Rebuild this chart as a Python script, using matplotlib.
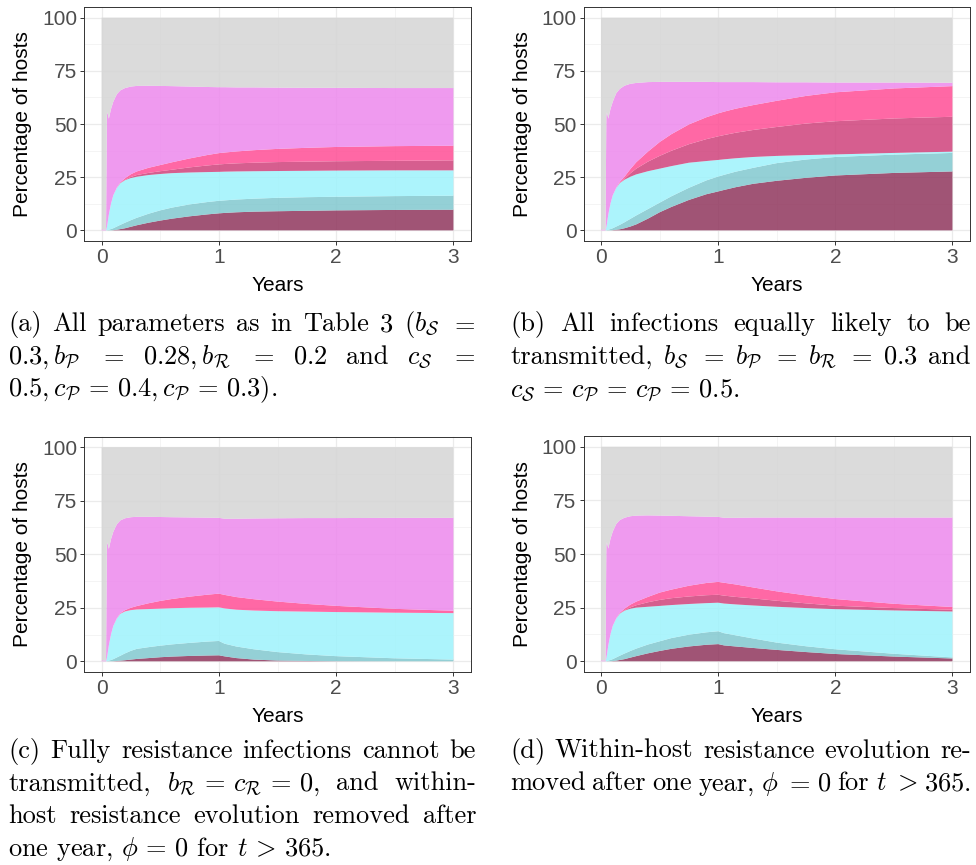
import numpy as np
import matplotlib
matplotlib.use('Agg')
import matplotlib.pyplot as plt
from matplotlib.ticker import MultipleLocator

plt.rcParams['font.family'] = ['Liberation Sans', 'DejaVu Sans']
plt.rcParams['mathtext.fontset'] = 'cm'

# ---------------- data (time in years, cumulative tops of stacked layers, %) ----------------
t = [0, 0.038, 0.045, 0.05, 0.062, 0.08, 0.1, 0.13, 0.16, 0.2, 0.25, 0.3, 0.4, 0.5,
     0.6, 0.75, 0.9, 1.0, 1.05, 1.15, 1.3, 1.5, 1.75, 2.0, 2.5, 3.0]

# panel (a)
a_maroon_top = [0, 0, 0, 0, 0, 0, 0.1, 0.3, 0.6, 1.0, 1.7, 2.4, 3.6, 4.6, 5.5, 6.6, 7.5, 8.0, 8.2, 8.5, 8.8, 9.0, 9.2, 9.4, 9.6, 9.7]
a_teal_top = [0, 0, 0, 0.1, 0.3, 0.6, 1.0, 1.8, 2.6, 3.6, 4.8, 5.9, 7.8, 9.4, 10.7, 12.2, 13.3, 13.9, 14.1, 14.5, 14.9, 15.3, 15.6, 15.8, 16.1, 16.3]
a_cyan_top = [0, 0, 1.5, 3.0, 7.5, 12.5, 16.5, 20.0, 22.2, 23.6, 24.6, 25.2, 26.0, 26.5, 26.9, 27.2, 27.4, 27.5, 27.6, 27.7, 27.8, 27.9, 28.0, 28.1, 28.2, 28.2]
a_mauve_top = [0, 0, 1.5, 3.0, 7.5, 12.5, 16.5, 20.0, 22.3, 23.8, 25.1, 26.0, 27.0, 27.8, 28.5, 29.6, 30.5, 31.0, 31.2, 31.5, 31.8, 32.1, 32.3, 32.5, 32.7, 32.9]
a_pink_top = [0, 0, 1.5, 3.0, 7.5, 12.5, 16.5, 20.1, 22.6, 24.5, 26.4, 27.7, 29.4, 30.7, 32.0, 33.8, 35.4, 36.3, 36.6, 37.1, 37.7, 38.3, 38.8, 39.2, 39.6, 39.8]
a_violet_top = [0.4, 0.4, 54, 55.5, 52.5, 57, 60.5, 64, 65.8, 66.9, 67.6, 67.9, 68.0, 67.9, 67.8, 67.6, 67.4, 67.3, 67.3, 67.2, 67.2, 67.1, 67.0, 67.0, 66.9, 66.9]

# panel (b)
b_maroon_top = [0, 0, 0, 0, 0, 0, 0.1, 0.3, 0.5, 1.0, 1.8, 2.8, 5.5, 8.5, 11.0, 14.3, 17.0, 18.3, 19.0, 20.3, 21.9, 23.3, 24.7, 25.8, 27.0, 27.7]
b_teal_top = [0, 0, 0, 0.1, 0.3, 0.6, 1.0, 1.8, 2.6, 3.8, 5.4, 7.0, 10.0, 13.0, 16.0, 20.0, 23.5, 25.3, 26.1, 27.6, 29.4, 31.6, 33.3, 34.5, 35.6, 36.4]
b_cyan_top = [0, 0, 1.5, 3.0, 7.5, 12.5, 16.5, 20.0, 22.2, 23.8, 25.2, 26.3, 27.8, 29.0, 30.2, 31.8, 32.6, 33.1, 33.4, 33.9, 34.5, 35.0, 35.4, 35.7, 36.4, 37.0]
b_mauve_top = [0, 0, 1.5, 3.0, 7.5, 12.5, 16.5, 20.0, 22.3, 24.2, 26.8, 29.0, 32.3, 35.0, 37.4, 40.5, 42.9, 44.2, 44.8, 45.9, 47.2, 48.6, 50.2, 51.3, 52.6, 53.4]
b_pink_top = [0, 0, 1.5, 3.0, 7.5, 12.5, 16.5, 20.1, 22.8, 25.2, 28.8, 32.0, 37.0, 41.5, 45.2, 49.8, 53.2, 55.0, 55.8, 57.2, 58.9, 60.9, 63.2, 64.9, 66.7, 67.8]
b_violet_top = [0.4, 0.4, 54, 55.5, 52.5, 57, 60.5, 64.5, 66.5, 68.0, 68.9, 69.3, 69.7, 69.8, 69.8, 69.8, 69.8, 69.7, 69.7, 69.7, 69.7, 69.6, 69.6, 69.5, 69.5, 69.4]

# panel (c)
c_maroon_top = [0, 0, 0, 0, 0, 0, 0.05, 0.15, 0.3, 0.5, 0.8, 1.1, 1.5, 1.9, 2.2, 2.5, 2.7, 2.8, 2.3, 1.5, 0.8, 0.35, 0.15, 0.05, 0, 0]
c_teal_top = [0, 0, 0, 0.1, 0.3, 0.6, 1.0, 1.8, 2.6, 3.7, 4.9, 5.8, 6.6, 7.3, 7.9, 8.6, 9.2, 9.5, 8.2, 6.9, 5.6, 4.3, 3.2, 2.4, 1.4, 0.8]
c_cyan_top = [0, 0, 1.5, 3.0, 7.5, 12.5, 16.5, 20.0, 22.2, 23.3, 23.9, 24.2, 24.4, 24.6, 24.8, 25.0, 25.1, 25.2, 24.7, 24.1, 23.7, 23.4, 23.2, 23.0, 22.7, 22.5]
c_mauve_top = [0, 0, 1.5, 3.0, 7.5, 12.5, 16.5, 20.0, 22.2, 23.3, 23.9, 24.2, 24.4, 24.6, 24.8, 25.0, 25.1, 25.2, 24.7, 24.1, 23.7, 23.4, 23.2, 23.0, 22.7, 22.5]
c_pink_top = [0, 0, 1.5, 3.0, 7.5, 12.5, 16.5, 20.1, 22.5, 23.9, 25.0, 25.8, 27.1, 28.2, 29.1, 30.2, 31.1, 31.6, 31.0, 30.0, 29.0, 27.9, 26.8, 25.9, 24.5, 23.6]
c_violet_top = [0.4, 0.4, 54, 55.5, 52.5, 57, 60.5, 64, 65.8, 66.8, 67.3, 67.5, 67.5, 67.4, 67.3, 67.2, 67.1, 67.0, 66.6, 66.6, 66.7, 66.8, 66.9, 66.9, 67.0, 67.0]

# panel (d)
d_maroon_top = [0, 0, 0, 0, 0, 0, 0.1, 0.3, 0.6, 1.0, 1.7, 2.4, 3.7, 4.8, 5.8, 6.9, 7.7, 8.0, 7.4, 6.9, 6.2, 5.3, 4.3, 3.4, 2.2, 1.3]
d_teal_top = [0, 0, 0, 0.1, 0.3, 0.6, 1.0, 1.8, 2.6, 3.6, 4.8, 5.9, 7.8, 9.3, 10.8, 12.4, 13.5, 14.0, 13.1, 12.1, 10.6, 8.7, 7.0, 5.6, 3.5, 1.8]
d_cyan_top = [0, 0, 1.5, 3.0, 7.5, 12.5, 16.5, 20.0, 22.2, 23.6, 24.5, 25.0, 25.4, 25.8, 26.2, 26.7, 27.1, 27.3, 26.9, 26.5, 26.0, 25.4, 24.8, 24.3, 23.7, 23.2]
d_mauve_top = [0, 0, 1.5, 3.0, 7.5, 12.5, 16.5, 20.0, 22.3, 23.8, 25.1, 26.1, 27.5, 28.6, 29.4, 30.2, 30.8, 31.0, 30.6, 30.0, 29.3, 28.2, 27.0, 25.9, 24.8, 24.0]
d_pink_top = [0, 0, 1.5, 3.0, 7.5, 12.5, 16.5, 20.1, 22.6, 24.5, 26.4, 27.8, 30.0, 32.0, 33.4, 35.2, 36.5, 37.0, 36.6, 35.8, 34.4, 32.6, 30.7, 29.0, 26.8, 25.3]
d_violet_top = [0.4, 0.4, 54, 55.5, 52.5, 57, 60.5, 64, 65.8, 66.9, 67.6, 67.9, 68.0, 67.9, 67.8, 67.6, 67.4, 67.3, 66.9, 66.9, 67.0, 67.0, 67.0, 67.0, 67.0, 67.0]

total_top = 100

x_ticks = [0, 1, 2, 3]
y_ticks = [0, 25, 50, 75, 100]
x_title = 'Years'
y_title = 'Percentage of hosts'

layer_colors = ['#90365D', '#81C8CF', '#9EF3FC', '#CF427B', '#FF4E95', '#ED88ED', '#D5D5D5']
layer_alpha = 0.85

panels = {
    'a': [a_maroon_top, a_teal_top, a_cyan_top, a_mauve_top, a_pink_top, a_violet_top],
    'b': [b_maroon_top, b_teal_top, b_cyan_top, b_mauve_top, b_pink_top, b_violet_top],
    'c': [c_maroon_top, c_teal_top, c_cyan_top, c_mauve_top, c_pink_top, c_violet_top],
    'd': [d_maroon_top, d_teal_top, d_cyan_top, d_mauve_top, d_pink_top, d_violet_top],
}

# ---------------- figure ----------------
W, H = 976, 865
fig = plt.figure(figsize=(W / 100, H / 100), dpi=100)

boxes = {  # left, top, right, bottom in pixels
    'a': (84, 7, 471, 241),
    'b': (583.5, 7, 970, 241),
    'c': (84, 436.5, 471, 672),
    'd': (583.5, 436, 970, 672),
}

tt = np.array(t, dtype=float)
for key, tops in panels.items():
    l, tp, r, b = boxes[key]
    ax = fig.add_axes([l / W, 1 - b / H, (r - l) / W, (b - tp) / H])
    ax.set_axisbelow(True)
    lower = np.zeros_like(tt)
    bounds = [np.array(v, dtype=float) for v in tops] + [np.full_like(tt, total_top)]
    for upper, col in zip(bounds, layer_colors):
        ax.fill_between(tt, lower, upper, facecolor=col, alpha=layer_alpha,
                        linewidth=0, edgecolor='none')
        lower = upper
    ax.set_xlim(-0.15, 3.15)
    ax.set_ylim(-5, 105)
    ax.set_xticks(x_ticks)
    ax.set_yticks(y_ticks)
    ax.xaxis.set_minor_locator(MultipleLocator(0.5))
    ax.yaxis.set_minor_locator(MultipleLocator(12.5))
    ax.grid(which='major', color='#EBEBEB', linewidth=0.9)
    ax.grid(which='minor', color='#F0F0F0', linewidth=0.5)
    ax.tick_params(which='major', direction='out', length=3, width=0.7, color='#333333',
                   labelsize=15, labelcolor='#4D4D4D', pad=2)
    ax.tick_params(which='minor', length=0)
    for sp in ax.spines.values():
        sp.set_color('#333333')
        sp.set_linewidth(0.7)
    ax.set_xlabel(x_title, fontsize=15, va='center')
    ax.set_ylabel(y_title, fontsize=15, va='center')
    ax.xaxis.set_label_coords(0.5, -0.19)
    ax.yaxis.set_label_coords(-0.158, 0.5)

# ---------------- captions ----------------
CAP_SIZE = 19
renderer = fig.canvas.get_renderer()


def caption_line(tokens, x0, x1, y, justify=True):
    txts = [fig.text(0, 1 - y / H, tok, va='baseline', ha='left',
                     fontfamily='cmr10', fontsize=CAP_SIZE, color='black') for tok in tokens]
    widths = [tx.get_window_extent(renderer).width for tx in txts]
    if justify and len(tokens) > 1:
        gap = (x1 - x0 - sum(widths)) / (len(tokens) - 1)
    else:
        gap = CAP_SIZE * 100 / 72 * 0.333
    x = x0
    for tx, w in zip(txts, widths):
        tx.set_x(x / W)
        x += w + gap


S = r'\mathcal{S}'
P = r'\mathcal{P}'
R = r'\mathcal{R}'
EQ = r'\,=\,'
LX0, LX1 = 8, 476
RX0, RX1 = 510, 971

caption_line(['(a)', 'All', 'parameters', 'as', 'in', 'Table', '3', '($b_{%s}$' % S, '$=$'], LX0, LX1, 331)
caption_line(['$0.3,b_{%s}$' % P, '$=$', '$0.28,b_{%s}$' % R, '$=$', '$0.2$', 'and', '$c_{%s}$' % S, '$=$'], LX0, LX1, 363.5)
caption_line(['$0.5,c_{%s}%s0.4,c_{%s}%s0.3$).' % (P, EQ, P, EQ)], LX0, LX1, 396, justify=False)

caption_line(['(b)', 'All', 'infections', 'equally', 'likely', 'to', 'be'], RX0, RX1, 331)
caption_line(['transmitted,', '$b_{%s}$' % S, '$=$', '$b_{%s}$' % P, '$=$', '$b_{%s}$' % R, '$=$', '$0.3$', 'and'], RX0, RX1, 363.5)
caption_line(['$c_{%s}%sc_{%s}%sc_{%s}%s0.5$.' % (S, EQ, P, EQ, P, EQ)], RX0, RX1, 396, justify=False)

caption_line(['(c)', 'Fully', 'resistance', 'infections', 'cannot', 'be'], LX0, LX1, 758)
caption_line(['transmitted,', '$b_{%s}%sc_{%s}%s0$,' % (R, EQ, R, EQ), 'and', 'within-'], LX0, LX1, 790.5)
caption_line(['host', 'resistance', 'evolution', 'removed', 'after'], LX0, LX1, 823)
caption_line([r'one year, $\phi%s0$ for $t\,>\,365$.' % EQ], LX0, LX1, 855.5, justify=False)

caption_line(['(d)', 'Within-host', 'resistance', 'evolution', 're-'], RX0, RX1, 758)
caption_line(['moved', 'after', 'one', 'year,', r'$\phi$', '$=$', '$0$', 'for', '$t$', '$>$', '$365$.'],
             RX0, RX1, 790.5)

fig.savefig('out.png', dpi=100)
